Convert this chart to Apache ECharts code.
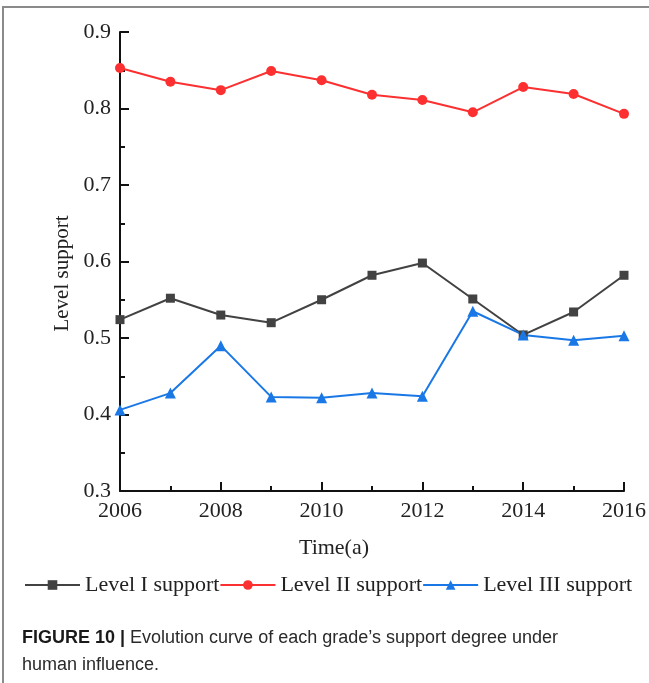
<!DOCTYPE html>
<html>
<head>
<meta charset="utf-8">
<script src="https://cdn.jsdelivr.net/npm/echarts@6/dist/echarts.min.js"></script>
<style>
  html, body { margin: 0; padding: 0; background: #fff; }
  #chart { width: 649px; height: 683px; }
</style>
</head>
<body>
<div id="chart"></div>
<script>
const years = [2006, 2007, 2008, 2009, 2010, 2011, 2012, 2013, 2014, 2015, 2016]
const levelI = [0.524, 0.552, 0.530, 0.520, 0.550, 0.582, 0.598, 0.551, 0.504, 0.534, 0.582]
const levelII = [0.853, 0.835, 0.824, 0.849, 0.837, 0.818, 0.811, 0.795, 0.828, 0.819, 0.793]
const levelIII = [0.406, 0.428, 0.490, 0.423, 0.422, 0.428, 0.424, 0.535, 0.504, 0.497, 0.503]
const seriesNames = ['Level I support', 'Level II support', 'Level III support']

const serif = '"Liberation Serif", "Times New Roman", serif'
const sans = '"Liberation Sans", Arial, sans-serif'

const chart = echarts.init(document.getElementById('chart'))

const pairs = vals => years.map((y, i) => [y, vals[i]])

const lineSeries = (name, vals, color, symbol, size) => ({
  name,
  type: 'line',
  data: pairs(vals),
  symbol,
  symbolSize: size,
  showSymbol: true,
  clip: false,
  lineStyle: { color, width: 2 },
  itemStyle: { color },
  emphasis: { disabled: true }
})

const option = {
  animation: false,
  backgroundColor: '#fff',
  grid: { left: 120, right: 6, top: 32, bottom: 192 },
  xAxis: {
    type: 'value',
    min: 2006,
    max: 2016,
    interval: 2,
    name: 'Time(a)',
    nameLocation: 'middle',
    nameGap: 46,
    nameTextStyle: { fontFamily: serif, fontSize: 22, color: '#222', padding: [0, 76, 0, 0] },
    axisLine: { show: true, lineStyle: { color: '#111', width: 2 } },
    axisTick: { show: true, inside: true, length: 9, lineStyle: { color: '#111', width: 2 } },
    minorTick: { show: true, splitNumber: 2, length: 5, lineStyle: { color: '#111', width: 2 } },
    splitLine: { show: false },
    axisLabel: { fontFamily: serif, fontSize: 22, color: '#222', margin: 9, formatter: v => String(v) }
  },
  yAxis: {
    type: 'value',
    min: 0.3,
    max: 0.9,
    interval: 0.1,
    name: 'Level support',
    nameLocation: 'middle',
    nameGap: 46,
    nameTextStyle: { fontFamily: serif, fontSize: 21, color: '#222', padding: [0, 24, 0, 0] },
    axisLine: { show: true, lineStyle: { color: '#111', width: 2 } },
    axisTick: { show: true, inside: true, length: 9, lineStyle: { color: '#111', width: 2 } },
    minorTick: { show: true, splitNumber: 2, length: 5, lineStyle: { color: '#111', width: 2 } },
    splitLine: { show: false },
    axisLabel: {
      fontFamily: serif, fontSize: 22, color: '#222', margin: 9,
      formatter: v => v.toFixed(1)
    }
  },
  legend: {
    left: 19,
    top: 569,
    itemGap: 0,
    itemWidth: 55,
    itemHeight: 12,
    textStyle: { fontFamily: serif, fontSize: 22, color: '#222' },
    data: seriesNames
  },
  title: {
    left: 17,
    top: 620,
    text: '{b|FIGURE 10 |} Evolution curve of each grade\u2019s support degree under\nhuman influence.',
    textStyle: {
      fontFamily: sans,
      fontSize: 18,
      fontWeight: 'normal',
      color: '#2a2a2a',
      lineHeight: 27,
      rich: {
        b: { fontFamily: sans, fontSize: 18, fontWeight: 'bold', color: '#1a1a1a' }
      }
    }
  },
  graphic: [
    {
      type: 'polyline',
      shape: { points: [[3, 683], [3, 7], [649, 7]] },
      style: { stroke: '#8a8a8a', lineWidth: 2, fill: null }
    }
  ],
  series: [
    lineSeries(seriesNames[0], levelI, '#424242', 'rect', 9),
    lineSeries(seriesNames[1], levelII, '#fc3030', 'circle', 10),
    lineSeries(seriesNames[2], levelIII, '#1a78e6', 'triangle', 11)
  ]
}

chart.setOption(option)
</script>
</body>
</html>
